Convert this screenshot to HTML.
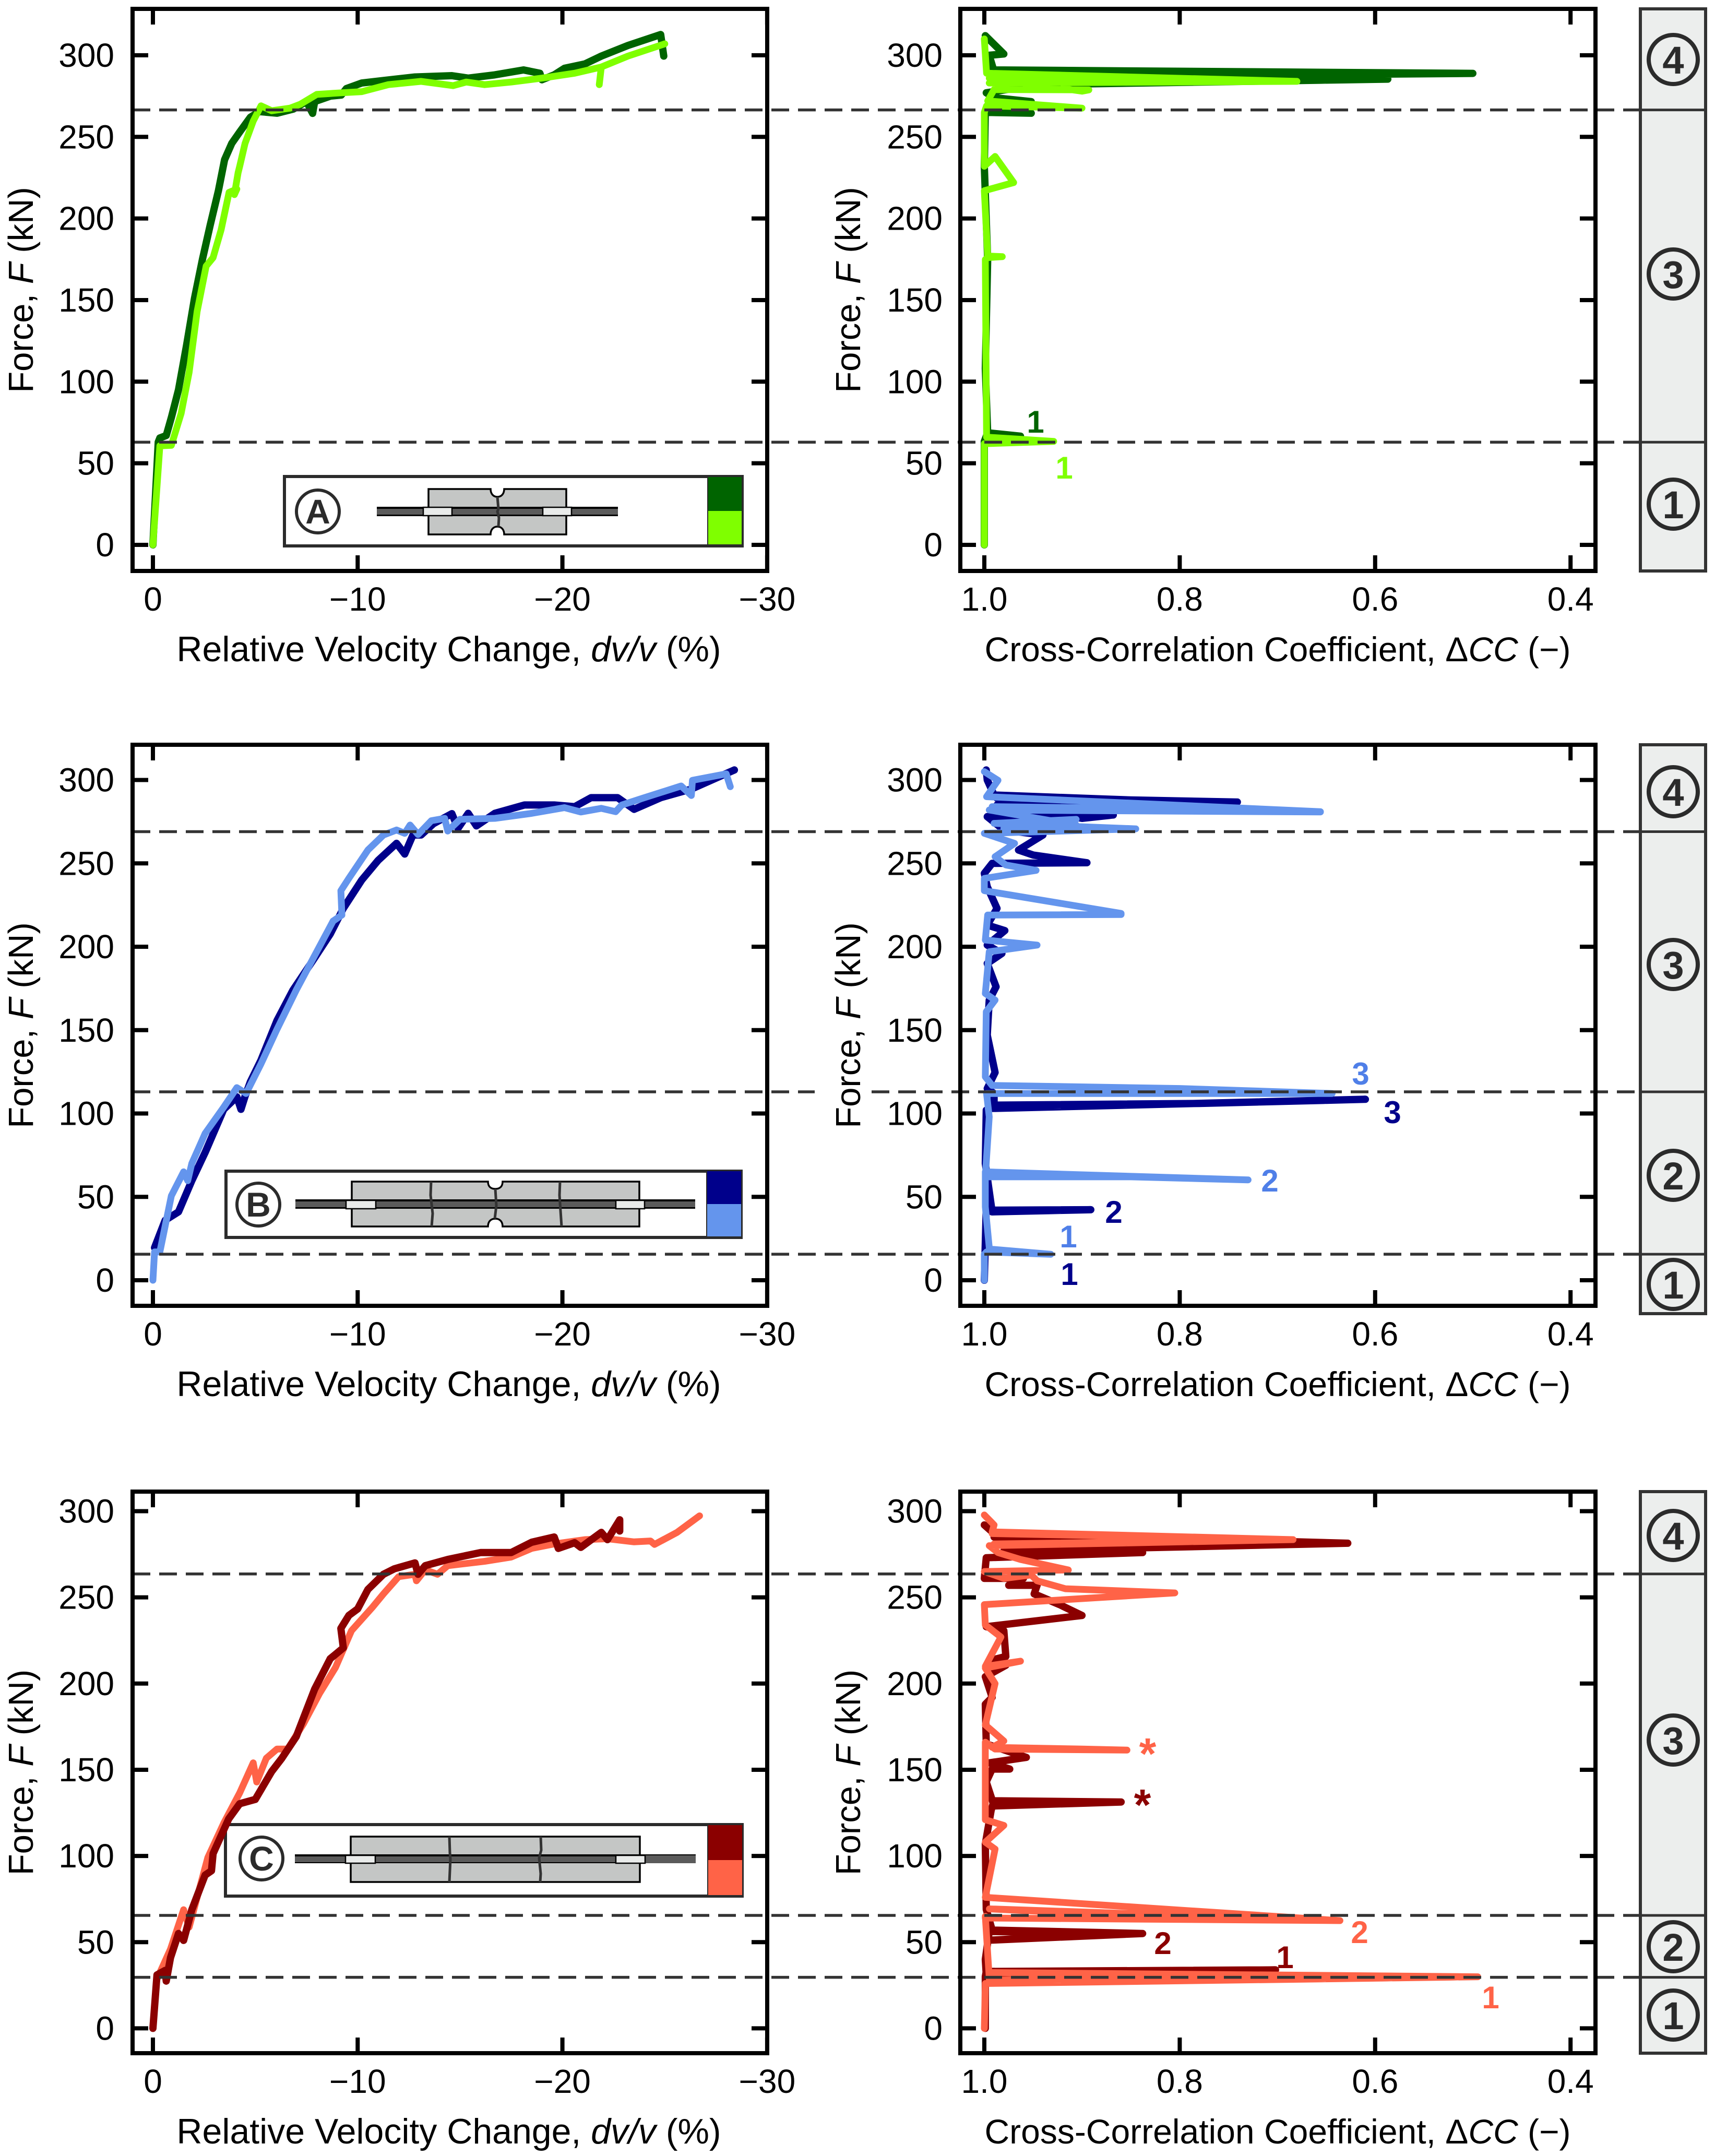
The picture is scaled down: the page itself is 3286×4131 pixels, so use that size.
<!DOCTYPE html>
<html lang="en">
<head>
<meta charset="utf-8">
<title>Force vs. relative velocity change and cross-correlation coefficient</title>
<style>
html,body{margin:0;padding:0;background:#fff;}
svg{display:block;font-family:"Liberation Sans",Arial,sans-serif;}
.inset-letter{font-size:66px;font-weight:bold;fill:#2b2b2b;text-anchor:middle;}
.stage-num{font-size:74px;font-weight:bold;fill:#2b2b2b;text-anchor:middle;}
</style>
</head>
<body>
<svg id="fig" xmlns="http://www.w3.org/2000/svg" width="3286" height="4131" viewBox="0 0 3286 4131">
<rect x="0" y="0" width="3286" height="4131" fill="#fff"/>

<!-- stage strips -->
<g>
<rect x="3143" y="17" width="125" height="1077" fill="#eceeed" stroke="#333" stroke-width="6"/>
<g fill="none" stroke="#2b2b2b" stroke-width="8">
<circle cx="3206" cy="114" r="47"/><circle cx="3206" cy="525" r="47"/><circle cx="3206" cy="966" r="47"/>
</g>
<text class="stage-num" x="3206" y="141">4</text><text class="stage-num" x="3206" y="552">3</text><text class="stage-num" x="3206" y="993">1</text>
</g>
<g>
<rect x="3143" y="1427" width="125" height="1090" fill="#eceeed" stroke="#333" stroke-width="6"/>
<g fill="none" stroke="#2b2b2b" stroke-width="8">
<circle cx="3206" cy="1517" r="47"/><circle cx="3206" cy="1848" r="47"/><circle cx="3206" cy="2252" r="47"/><circle cx="3206" cy="2461" r="47"/>
</g>
<text class="stage-num" x="3206" y="1544">4</text><text class="stage-num" x="3206" y="1875">3</text><text class="stage-num" x="3206" y="2279">2</text><text class="stage-num" x="3206" y="2488">1</text>
</g>
<g>
<rect x="3143" y="2858" width="125" height="1076" fill="#eceeed" stroke="#333" stroke-width="6"/>
<g fill="none" stroke="#2b2b2b" stroke-width="8">
<circle cx="3206" cy="2942" r="47"/><circle cx="3206" cy="3334" r="47"/><circle cx="3206" cy="3730" r="47"/><circle cx="3206" cy="3861" r="47"/>
</g>
<text class="stage-num" x="3206" y="2969">4</text><text class="stage-num" x="3206" y="3361">3</text><text class="stage-num" x="3206" y="3757">2</text><text class="stage-num" x="3206" y="3888">1</text>
</g>

<!-- specimen insets -->
<g>
<rect x="545" y="913" width="877" height="133" fill="#fff" stroke="#2b2b2b" stroke-width="6"/>
<rect x="1356" y="914" width="65" height="65" fill="#006400"/><rect x="1356" y="979" width="65" height="64" fill="#7FFF00"/>
<line x1="1356" y1="914" x2="1356" y2="1044" stroke="#2b2b2b" stroke-width="2"/>
<circle cx="609" cy="980" r="41" fill="#fff" stroke="#2b2b2b" stroke-width="6"/>
<text class="inset-letter" x="609" y="1003">A</text>
<path d="M821 937H940C940 947 946 952 953 952C960 952 966 947 966 937H1085V1024H966C966 1014 960 1009 953 1009C946 1009 940 1014 940 1024H821Z" fill="#c4c6c5" stroke="#000" stroke-width="3.5"/>
<rect x="722" y="971" width="462" height="18" fill="#000"/><rect x="722" y="975" width="462" height="11" fill="#5b5b5b"/>
<rect x="811" y="972" width="55" height="16" fill="#e9ebea" stroke="#000" stroke-width="2.5"/><rect x="1040" y="972" width="55" height="16" fill="#e9ebea" stroke="#000" stroke-width="2.5"/>
<path d="M953 952L955 975L953 980L956 992L955 1009" fill="none" stroke="#333" stroke-width="5"/>
</g>
<g>
<rect x="433" y="2244" width="987" height="127" fill="#fff" stroke="#2b2b2b" stroke-width="6"/>
<rect x="1354" y="2244" width="66" height="63" fill="#00008B"/><rect x="1354" y="2307" width="66" height="62" fill="#6495ED"/>
<line x1="1354" y1="2244" x2="1354" y2="2370" stroke="#2b2b2b" stroke-width="2"/>
<circle cx="495" cy="2308" r="41" fill="#fff" stroke="#2b2b2b" stroke-width="6"/>
<text class="inset-letter" x="495" y="2331">B</text>
<path d="M674 2264H935C935 2274 941 2278 949 2278C957 2278 963 2274 963 2264H1225V2350H963C963 2340 957 2335 949 2335C941 2335 935 2340 935 2350H674Z" fill="#c4c6c5" stroke="#000" stroke-width="3.5"/>
<rect x="566" y="2298" width="766" height="18" fill="#000"/><rect x="566" y="2302" width="766" height="11" fill="#5b5b5b"/>
<rect x="663" y="2300" width="57" height="16" fill="#e9ebea" stroke="#000" stroke-width="2.5"/><rect x="1180" y="2300" width="55" height="16" fill="#e9ebea" stroke="#000" stroke-width="2.5"/>
<g fill="none" stroke="#333" stroke-width="5"><path d="M826 2264L825 2290L829 2325L827 2350"/><path d="M949 2278L951 2310L948 2335"/><path d="M1073 2264L1072 2290L1076 2350"/></g>
</g>
<g>
<rect x="432" y="3496" width="990" height="137" fill="#fff" stroke="#2b2b2b" stroke-width="6"/>
<rect x="1356" y="3497" width="66" height="67" fill="#8B0000"/><rect x="1356" y="3564" width="66" height="67" fill="#FF6347"/>
<line x1="1356" y1="3497" x2="1356" y2="3633" stroke="#2b2b2b" stroke-width="2"/>
<circle cx="501" cy="3561" r="41" fill="#fff" stroke="#2b2b2b" stroke-width="6"/>
<text class="inset-letter" x="501" y="3584">C</text>
<rect x="672" y="3519" width="554" height="87" fill="#c4c6c5" stroke="#000" stroke-width="3.5"/>
<rect x="565" y="3553" width="768" height="17" fill="#000"/><rect x="565" y="3557" width="768" height="11" fill="#5b5b5b"/><rect x="1236" y="3555" width="97" height="15" fill="#5b5b5b"/>
<rect x="662" y="3555" width="57" height="15" fill="#e9ebea" stroke="#000" stroke-width="2.5"/><rect x="1180" y="3555" width="56" height="15" fill="#e9ebea" stroke="#000" stroke-width="2.5"/>
<g fill="none" stroke="#333" stroke-width="5"><path d="M861 3519L862 3550L863 3562L861 3606"/><path d="M1036 3519L1037 3545L1033 3560L1036 3590L1035 3606"/></g>
</g>

<g id="layer-series"></g>
<g id="layer-over"></g>
</svg>

<script>
// ---- tick labels ----
var forceTicks = [0, 50, 100, 150, 200, 250, 300];
var dvvTicks = [0, -10, -20, -30];
var ccTicks = [1.0, 0.8, 0.6, 0.4];

// ---- stage boundaries (kN) ----
var boundariesA = [62.9, 266.5];
var boundariesB = [15.6, 113, 269];
var boundariesC = [29.6, 65.5, 263.6];

// ---- Panel A, dv/v ----
var aDarkDvv = [0,-0.26,-0.34,-0.65,-0.9,-1.25,-1.64,-2.03,-2.42,-2.8,-3.2,-3.5,-3.85,-4.24,-4.76,-5.2,-6.07,-6.85,-7.5,-7.8,-7.9,-8.67,-9.2,-9.45,-10.2,-11.3,-12.8,-14.6,-15.4,-16.7,-18.1,-18.9,-19,-19.6,-20.1,-21.1,-21.9,-23.2,-24.8,-24.95];
var aDarkDvvForce = [0,63,65.5,67,78,95,122,151,175,196,217,236,246,253,262,265.5,264.5,267,271.6,264.4,271.6,275,275.6,279.6,283,284.6,286.7,287.5,286,288,291,289,285,288,292,294.7,299.5,306,312.7,299.5];
var aLightDvv = [0,-0.34,-0.9,-1.38,-1.77,-2.16,-2.6,-2.94,-3.33,-3.72,-4.1,-3.98,-4.16,-4.24,-4.5,-4.9,-5.28,-5.8,-6.7,-7.2,-8,-9.2,-10.2,-11.5,-13.1,-14.66,-15.3,-16.2,-17.5,-19,-20.6,-21.9,-21.8,-21.9,-23.2,-25];
var aLightDvvForce = [0,60.7,61,80.6,105.8,143,170.8,176,193,216,218,214.6,228,232,246,259.7,269,266,267.6,270,276,277,277.7,282,284,281.4,283.6,282,283.6,286,289,292.8,282,292.8,299.5,307];

// ---- Panel A, CC ----
var aDarkCc = [1,1,0.9966,0.963,0.9966,0.999,0.9966,1,0.999,0.952,0.997,0.952,0.99,0.998,0.946,0.587,0.946,0.99,0.5,0.9,0.99,0.995,0.98,0.999];
var aDarkCcForce = [0,63.4,68.7,66.6,68.7,108,174.8,232,265,264.5,268,271.6,274,277,282,285.4,283,291,288.9,287,290,300,300.8,312];
var aLightCc = [1,1,0.929,0.9977,0.999,0.9966,0.9816,0.9966,1,0.97,0.989,1,1,0.9977,0.9,0.9966,0.99,0.893,0.9,0.995,0.68,0.85,0.995,0.68,0.9977,1];
var aLightCcForce = [0,62,63.4,66,174.8,176,176.6,177,217,222,238,232,265,269,267.6,272,279,278.8,278,286,284,283.5,283,284,289,310];

// ---- Panel B, dv/v ----
var bDarkDvv = [-0.08,-0.6,-1.25,-1.9,-2.55,-3.46,-4.1,-4.3,-4.5,-4.76,-5.28,-6.06,-6.84,-7.88,-8.66,-9.3,-10.2,-11,-11.9,-12.3,-12.7,-13.1,-13.7,-14.6,-14.9,-15.4,-15.8,-16.7,-18.15,-19.6,-20.6,-21.4,-22.7,-23.5,-24.8,-26.3,-28.4];
var bDarkDvvForce = [19.5,36,41,59.7,76.6,102.5,110,102.5,110.3,119,132,155.7,174,193,207.6,223,240,251.8,262,255.6,267,267,273.8,279.8,271,280,272.5,280,285,285,284,289.4,289.4,282.4,289.4,294.6,306];
var bLightDvv = [0,-0.08,-0.34,-0.9,-1.5,-1.7,-1.9,-2.55,-3.46,-4.1,-4.55,-5.28,-6.06,-7,-8,-8.8,-9.23,-9.18,-9.57,-10.5,-11.26,-11.9,-12.3,-12.56,-12.95,-13.6,-14.25,-14.4,-15,-16.7,-18.5,-20.1,-20.9,-21.9,-22.6,-22.9,-24,-25.8,-26.3,-26.35,-28,-28.2];
var bLightDvvForce = [0,17,17,50.6,65,59.7,70,88,103.8,115.5,112,129.8,150.5,174,197,215.4,219,233.6,241,258,267,270,268,273,267.3,275.6,277,269.4,276.4,277,280,283.4,280.8,283,281,285,289.4,296.4,290.7,299.8,303.7,296];

// ---- Panel B, CC ----
var bDarkCc = [1,0.998,0.992,0.891,0.992,0.999,0.998,0.994,0.61,0.78,0.99,0.99,0.997,0.989,0.997,0.995,0.988,0.997,0.982,0.997,0.979,0.997,0.987,0.997,1,0.992,0.895,0.95,0.965,0.94,0.98,0.997,0.868,0.9,0.987,0.741,0.85,0.987,0.741,0.85,0.99,0.997,0.998];
var bDarkCcForce = [0,44,42,42.3,41,70,102,103,108.5,106,105,112,115,124.6,147,168,176,190,196,201,209.7,213,223,236,244,250,250.4,255,258,267,270,278,279,277,285,286.8,284,289,286.8,288,291,300,306];
var bLightCc = [1,1,0.9977,0.932,0.9948,0.999,0.999,0.73,0.85,0.999,0.995,0.9977,0.644,0.8,0.992,0.999,0.998,0.989,0.999,0.995,0.946,0.999,0.9966,0.86,0.86,1,1,0.947,0.978,0.989,0.969,1,0.845,0.99,0.906,0.98,0.906,0.995,0.656,0.85,0.992,0.656,0.9977,0.986,1];
var bLightCcForce = [0,15.6,17,15.6,18.7,44,65,60.2,62,62,98,112,112,115,116.8,122,161,168,172,197,201,204,219,219.3,220,233.6,241,245.8,249,254,262,268,270.7,274,276.4,271,273,282,280.8,283,284,281,290,299.8,305];

// ---- Panel C, dv/v ----
var cDarkDvv = [0,-0.2,-0.6,-0.65,-0.86,-1.25,-1.5,-1.9,-2.55,-2.86,-2.94,-3.7,-4.24,-5,-5.8,-6.3,-7,-7.9,-8.66,-9.3,-9.18,-9.57,-10,-10.5,-11.26,-11.8,-12.8,-12.95,-13.3,-14.4,-16,-17.5,-18.5,-19.6,-19.8,-20.6,-20.9,-21.9,-22.2,-22.8,-22.8];
var cDarkDvvForce = [0,31,33.6,27.4,41,55,51,68.8,88.9,91.4,101.4,121.5,130.3,132.8,149,156.7,169.2,196.8,214.4,220.7,232,239.5,243.3,254.6,263.4,266.6,270,263.4,268.4,272,276,276,282,285,278.4,281.7,279,287.7,283.5,295,288.5];
var cLightDvv = [-0.2,-0.86,-1.5,-1.77,-2.68,-3.46,-4.24,-4.9,-5.07,-5.54,-6.06,-6.58,-7.36,-8.14,-8.92,-9.7,-10.74,-11.26,-12,-12.8,-12.87,-13.3,-13.9,-14.4,-16.2,-17.5,-18.5,-19.6,-21.1,-22.2,-23.5,-24.3,-24.5,-25.6,-26.7];
var cLightDvvForce = [28.6,46,68.8,58.7,99,119,136.6,154,142.9,156.7,162,162,176.8,194.3,209.4,230.7,244.5,252,262,263.4,259.6,266,263.4,268.4,270.9,273.4,278.4,281,283.5,284,282.2,282.7,280.7,287.7,297.3];

// ---- Panel C, CC ----
var cDarkCc = [0.999,0.999,0.998,0.702,0.85,0.998,0.999,0.995,0.838,0.9,0.992,0.838,0.992,0.998,0.999,0.993,0.99,0.86,0.99,0.998,0.992,0.974,0.995,0.957,0.998,0.999,0.992,0.999,0.978,0.99,0.978,0.98,0.998,0.9,0.923,0.949,0.946,0.975,0.96,1,0.998,0.838,0.98,0.628,0.99,0.628,0.99,1];
var cDarkCcForce = [0,30,33,33.9,33,31,40,56.2,55,54,51.2,55,57,69,107,126.5,132,131.3,129,143,150.4,150.4,154,157.2,165,188,192,204,210.6,214,215.7,230.7,233,239.5,245.8,252,257,257,261,261,273,276,277,281.4,285,281.4,287,292];
var cLightCc = [1,0.999,0.495,0.7,0.9948,0.495,0.9948,0.999,0.999,0.636,0.8,0.9948,0.636,0.999,0.989,0.999,0.98,0.999,0.999,0.989,0.854,0.9,0.992,0.98,0.999,0.989,0.999,0.963,0.999,0.983,0.999,1,0.805,0.917,0.946,0.952,0.98,1,0.914,0.963,0.986,0.995,0.684,0.8,0.992,0.684,0.99,0.684,0.992,0.99,1];
var cLightCcForce = [0,26,29.9,28.5,32.4,29.9,28,65,64,62.5,64,69.3,62.5,76,104,108,117.7,121,166,162,161.4,162,163,166.7,176,200,209,213,210,227,234,245.8,252.6,255,259.6,263,261,265,265.9,272,276,280,283.5,285,287,283.5,281,283.5,288,292,297.8];

var NS = 'http://www.w3.org/2000/svg';
var seriesLayer = document.getElementById('layer-series');
var overLayer = document.getElementById('layer-over');

function mk(tag, attrs, parent, name) {
  var el = document.createElementNS(NS, tag);
  for (var k in attrs) el.setAttribute(k, attrs[k]);
  
  
  parent.appendChild(el);
  return el;
}

// ---- axis functions ----
function xDvv(v) { return 293 + (-v) * 39.23; }
function xCc(c) { return 1886 + (1 - c) * 1872; }
function forceAxis(zeroPx, pxPerKn) { return function (f) { return zeroPx - f * pxPerKn; }; }

function drawSeries(xs, fs, xFn, yFn, color, width, name) {
  var d = '';
  for (var i = 0; i < xs.length; i++) {
    d += (i ? 'L' : 'M') + xFn(xs[i]).toFixed(1) + ' ' + yFn(fs[i]).toFixed(1);
  }
  mk('path', {d: d, fill: 'none', stroke: color, 'stroke-width': width, 'stroke-linecap': 'round', 'stroke-linejoin': 'round'}, seriesLayer, name);
}

function label(parent, x, y, anchor, txt, name) {
  return mk('text', {x: x, y: y, 'text-anchor': anchor, 'font-size': 64, fill: '#000'}, parent, name).appendChild(document.createTextNode(txt));
}

function richText(parent, attrs, parts, name) {
  var t = mk('text', attrs, parent, name);
  parts.forEach(function (p) {
    var s = document.createElementNS(NS, 'tspan');
    if (p[1]) s.setAttribute('font-style', 'italic');
    s.textContent = p[0];
    t.appendChild(s);
  });
  return t;
}

function drawAxes(rowName, kind, left, right, top, bottom, xTicks, xFn, yFn, tickLabelRight, yTitleX, xTitleCx) {
  var g = mk('g', {}, overLayer, rowName + '-' + kind + '-axes');
  forceTicks.forEach(function (f) {
    var y = yFn(f);
    mk('line', {x1: left, x2: left + 30, y1: y, y2: y, stroke: '#000', 'stroke-width': 8}, g, 'y-tick-left');
    mk('line', {x1: right - 30, x2: right, y1: y, y2: y, stroke: '#000', 'stroke-width': 8}, g, 'y-tick-right');
    label(g, tickLabelRight, y + 22, 'end', String(f), 'y-tick-label');
  });
  xTicks.forEach(function (v) {
    var x = xFn(v);
    mk('line', {x1: x, x2: x, y1: bottom - 30, y2: bottom, stroke: '#000', 'stroke-width': 8}, g, 'x-tick-bottom');
    mk('line', {x1: x, x2: x, y1: top, y2: top + 30, stroke: '#000', 'stroke-width': 8}, g, 'x-tick-top');
    var txt = kind === 'dvv' ? (v === 0 ? '0' : '\u2212' + Math.abs(v)) : v.toFixed(1);
    label(g, x, bottom + 76, 'middle', txt, 'x-tick-label');
  });
  mk('rect', {x: left, y: top, width: right - left, height: bottom - top, fill: 'none', stroke: '#000', 'stroke-width': 8}, g, 'axes-frame');
  var cy = (top + bottom) / 2;
  richText(g, {x: 0, y: 0, transform: 'translate(' + yTitleX + ' ' + cy + ') rotate(-90)', 'text-anchor': 'middle', 'font-size': 67, fill: '#000'},
    [['Force, ', false], ['F', true], [' (kN)', false]], 'y-axis-title');
  var parts = kind === 'dvv'
    ? [['Relative Velocity Change, ', false], ['dv/v', true], [' (%)', false]]
    : [['Cross-Correlation Coefficient, \u0394', false], ['CC', true], [' (\u2212)', false]];
  richText(g, {x: xTitleCx, y: bottom + 173, 'text-anchor': 'middle', 'font-size': kind === 'dvv' ? 68 : 66, fill: '#000'}, parts, 'x-axis-title');
}

function dashedSegment(x1, x2, y, name) {
  mk('line', {x1: x1, x2: x2, y1: y, y2: y, stroke: '#333', 'stroke-width': 5.5, 'stroke-dasharray': '34 17'}, overLayer, name);
}

function drawBoundaries(values, yFn, name, gapValue) {
  values.forEach(function (f) {
    var y = yFn(f);
    if (f === gapValue) {
      dashedSegment(254, 1561, y, name + '-boundary-dashed');
      dashedSegment(1670, 3140, y, name + '-boundary-dashed');
    } else {
      dashedSegment(254, 3140, y, name + '-boundary-dashed');
    }
    mk('line', {x1: 3140, x2: 3268, y1: y, y2: y, stroke: '#333', 'stroke-width': 5}, overLayer, name + '-boundary-strip');
  });
}

function note(x, y, txt, color, name) {
  var star = txt === '*';
  var el = mk('text', {x: x, y: y + 21, 'text-anchor': 'middle', 'font-size': star ? 84 : 60, 'font-weight': 'bold', fill: color}, overLayer, name);
  el.textContent = txt;
}

var yA = forceAxis(1044, 3.127);
var yB = forceAxis(2453, 3.195);
var yC = forceAxis(3886.4, 3.303);

// Panel A
drawSeries(aDarkDvv, aDarkDvvForce, xDvv, yA, '#006400', 14, 'a-dark-dvv-line');
drawSeries(aLightDvv, aLightDvvForce, xDvv, yA, '#7FFF00', 13, 'a-light-dvv-line');
drawSeries(aDarkCc, aDarkCcForce, xCc, yA, '#006400', 14, 'a-dark-cc-line');
drawSeries(aLightCc, aLightCcForce, xCc, yA, '#7FFF00', 13, 'a-light-cc-line');

// Panel B
drawSeries(bDarkDvv, bDarkDvvForce, xDvv, yB, '#00008B', 14, 'b-dark-dvv-line');
drawSeries(bLightDvv, bLightDvvForce, xDvv, yB, '#6495ED', 13, 'b-light-dvv-line');
drawSeries(bDarkCc, bDarkCcForce, xCc, yB, '#00008B', 14, 'b-dark-cc-line');
drawSeries(bLightCc, bLightCcForce, xCc, yB, '#6495ED', 13, 'b-light-cc-line');

// Panel C
drawSeries(cLightDvv, cLightDvvForce, xDvv, yC, '#FF6347', 13, 'c-light-dvv-line');
drawSeries(cDarkDvv, cDarkDvvForce, xDvv, yC, '#8B0000', 14, 'c-dark-dvv-line');
drawSeries(cDarkCc, cDarkCcForce, xCc, yC, '#8B0000', 14, 'c-dark-cc-line');
drawSeries(cLightCc, cLightCcForce, xCc, yC, '#FF6347', 13, 'c-light-cc-line');

drawBoundaries(boundariesA, yA, 'a', null);
drawBoundaries(boundariesB, yB, 'b', 113);
drawBoundaries(boundariesC, yC, 'c', null);

drawAxes('a', 'dvv', 254, 1470, 17, 1094, dvvTicks, xDvv, yA, 219, 63, 860);
drawAxes('a', 'cc', 1840, 3057, 17, 1094, ccTicks, xCc, yA, 1806, 1648, 2448);
drawAxes('b', 'dvv', 254, 1470, 1427, 2502, dvvTicks, xDvv, yB, 219, 63, 860);
drawAxes('b', 'cc', 1840, 3057, 1427, 2502, ccTicks, xCc, yB, 1806, 1648, 2448);
drawAxes('c', 'dvv', 254, 1470, 2858, 3934, dvvTicks, xDvv, yC, 219, 63, 860);
drawAxes('c', 'cc', 1840, 3057, 2858, 3934, ccTicks, xCc, yC, 1806, 1648, 2448);

note(1984, 808, '1', '#006400', 'a-dark-annotation-1');
note(2039, 896, '1', '#7FFF00', 'a-light-annotation-1');
note(2607, 2057, '3', '#4f7fe8', 'b-light-annotation-3');
note(2668, 2131, '3', '#00008B', 'b-dark-annotation-3');
note(2433, 2262, '2', '#4f7fe8', 'b-light-annotation-2');
note(2134, 2322, '2', '#00008B', 'b-dark-annotation-2');
note(2047, 2369, '1', '#4f7fe8', 'b-light-annotation-1');
note(2049, 2441, '1', '#00008B', 'b-dark-annotation-1');
note(2199, 3368, '*', '#FF6347', 'c-light-annotation-star');
note(2189, 3466, '*', '#8B0000', 'c-dark-annotation-star');
note(2605, 3702, '2', '#FF6347', 'c-light-annotation-2');
note(2228, 3723, '2', '#8B0000', 'c-dark-annotation-2');
note(2462, 3750, '1', '#8B0000', 'c-dark-annotation-1');
note(2856, 3827, '1', '#FF6347', 'c-light-annotation-1');
</script>
</body>
</html>
